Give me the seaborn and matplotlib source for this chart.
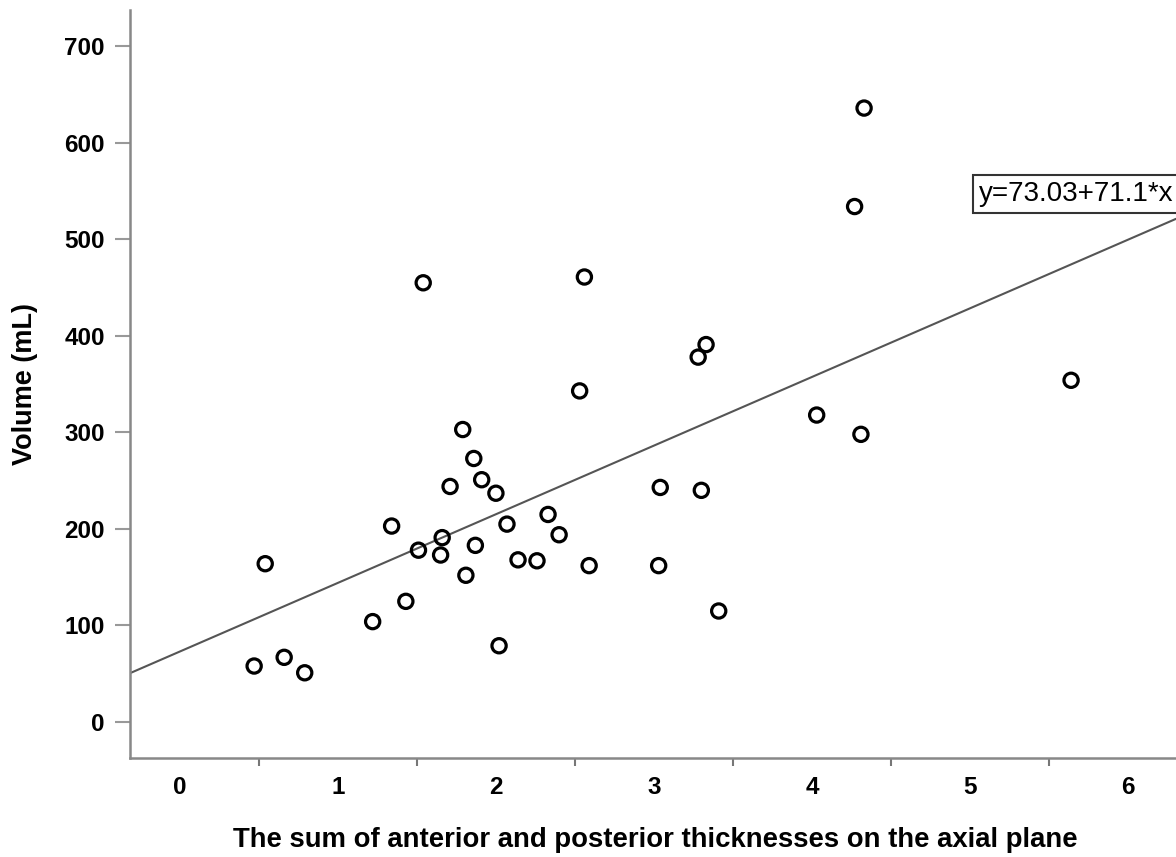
import numpy as np
import pandas as pd
import matplotlib
matplotlib.use("Agg")
import matplotlib.pyplot as plt
import seaborn as sns
from matplotlib.ticker import MultipleLocator

# Data
thickness = [0.47, 0.54, 0.66, 0.79, 1.22, 1.34, 1.43, 1.51, 1.54, 1.65,
             1.66, 1.71, 1.79, 1.81, 1.86, 1.87, 1.91, 2.00, 2.02, 2.07,
             2.14, 2.26, 2.33, 2.40, 2.53, 2.56, 2.59, 3.03, 3.04, 3.28,
             3.33, 3.30, 3.41, 4.03, 4.27, 4.33, 4.31, 5.64]
volume = [58, 164, 67, 51, 104, 203, 125, 178, 455, 173,
          191, 244, 303, 152, 273, 183, 251, 237, 79, 205,
          168, 167, 215, 194, 343, 461, 162, 162, 243, 378,
          391, 240, 115, 318, 534, 636, 298, 354]

# Fit line reported on the chart
intercept = 73.03
slope = 71.1
fit_label = "y=73.03+71.1*x"

df = pd.DataFrame({"thickness": thickness, "volume": volume})

sns.set_style("white")
plt.rcParams["font.family"] = ["Liberation Sans", "DejaVu Sans"]
plt.rcParams["text.color"] = "black"
plt.rcParams["axes.labelcolor"] = "black"
plt.rcParams["xtick.color"] = "black"
plt.rcParams["ytick.color"] = "black"

fig = plt.figure(figsize=(11.76, 8.57), dpi=100)
ax = fig.add_axes([0.1105, 0.1155, 0.8895, 0.8725])

sns.scatterplot(data=df, x="thickness", y="volume", ax=ax,
                marker="o", s=105, facecolor="none", edgecolor="black",
                linewidth=2.3, zorder=3)

ax.axline((0, intercept), slope=slope, color="#555555", lw=1.5, zorder=2)

ax.set_xlim(-0.316, 6.304)
ax.set_ylim(-37.3, 737.3)

# labels on integers, tick marks between them
ax.xaxis.set_major_locator(MultipleLocator(1))
ax.xaxis.set_minor_locator(MultipleLocator(1, offset=0.5))
ax.yaxis.set_major_locator(MultipleLocator(100))
ax.tick_params(axis="x", which="major", length=0, pad=13, labelsize=17.5)
ax.tick_params(axis="x", which="minor", length=6, width=1.5,
               color="#777777", direction="out", bottom=True)
ax.tick_params(axis="y", which="major", length=11, width=1.5,
               color="#999999", direction="out", left=True, pad=7,
               labelsize=17.5)
for lab in ax.get_xticklabels() + ax.get_yticklabels():
    lab.set_fontweight("bold")

for side in ["top", "right"]:
    ax.spines[side].set_visible(False)
for side in ["left", "bottom"]:
    ax.spines[side].set_color("#888888")
    ax.spines[side].set_linewidth(1.8)

ax.set_xlabel("The sum of anterior and posterior thicknesses on the axial plane",
              fontsize=19.8, fontweight="bold")
ax.set_ylabel("Volume (mL)", fontsize=19.5, fontweight="bold")
ax.xaxis.label.set_va("center")
ax.yaxis.label.set_va("center")
ax.xaxis.set_label_coords(0.502, -0.11)
ax.yaxis.set_label_coords(-0.1004, 0.5)

ax.text(5.06, 547, fit_label, fontsize=20, ha="left", va="center",
        bbox=dict(boxstyle="square,pad=0.22", fc="white", ec="#333333", lw=1.5),
        zorder=4, clip_on=False)

fig.savefig("out.png", dpi=100)
